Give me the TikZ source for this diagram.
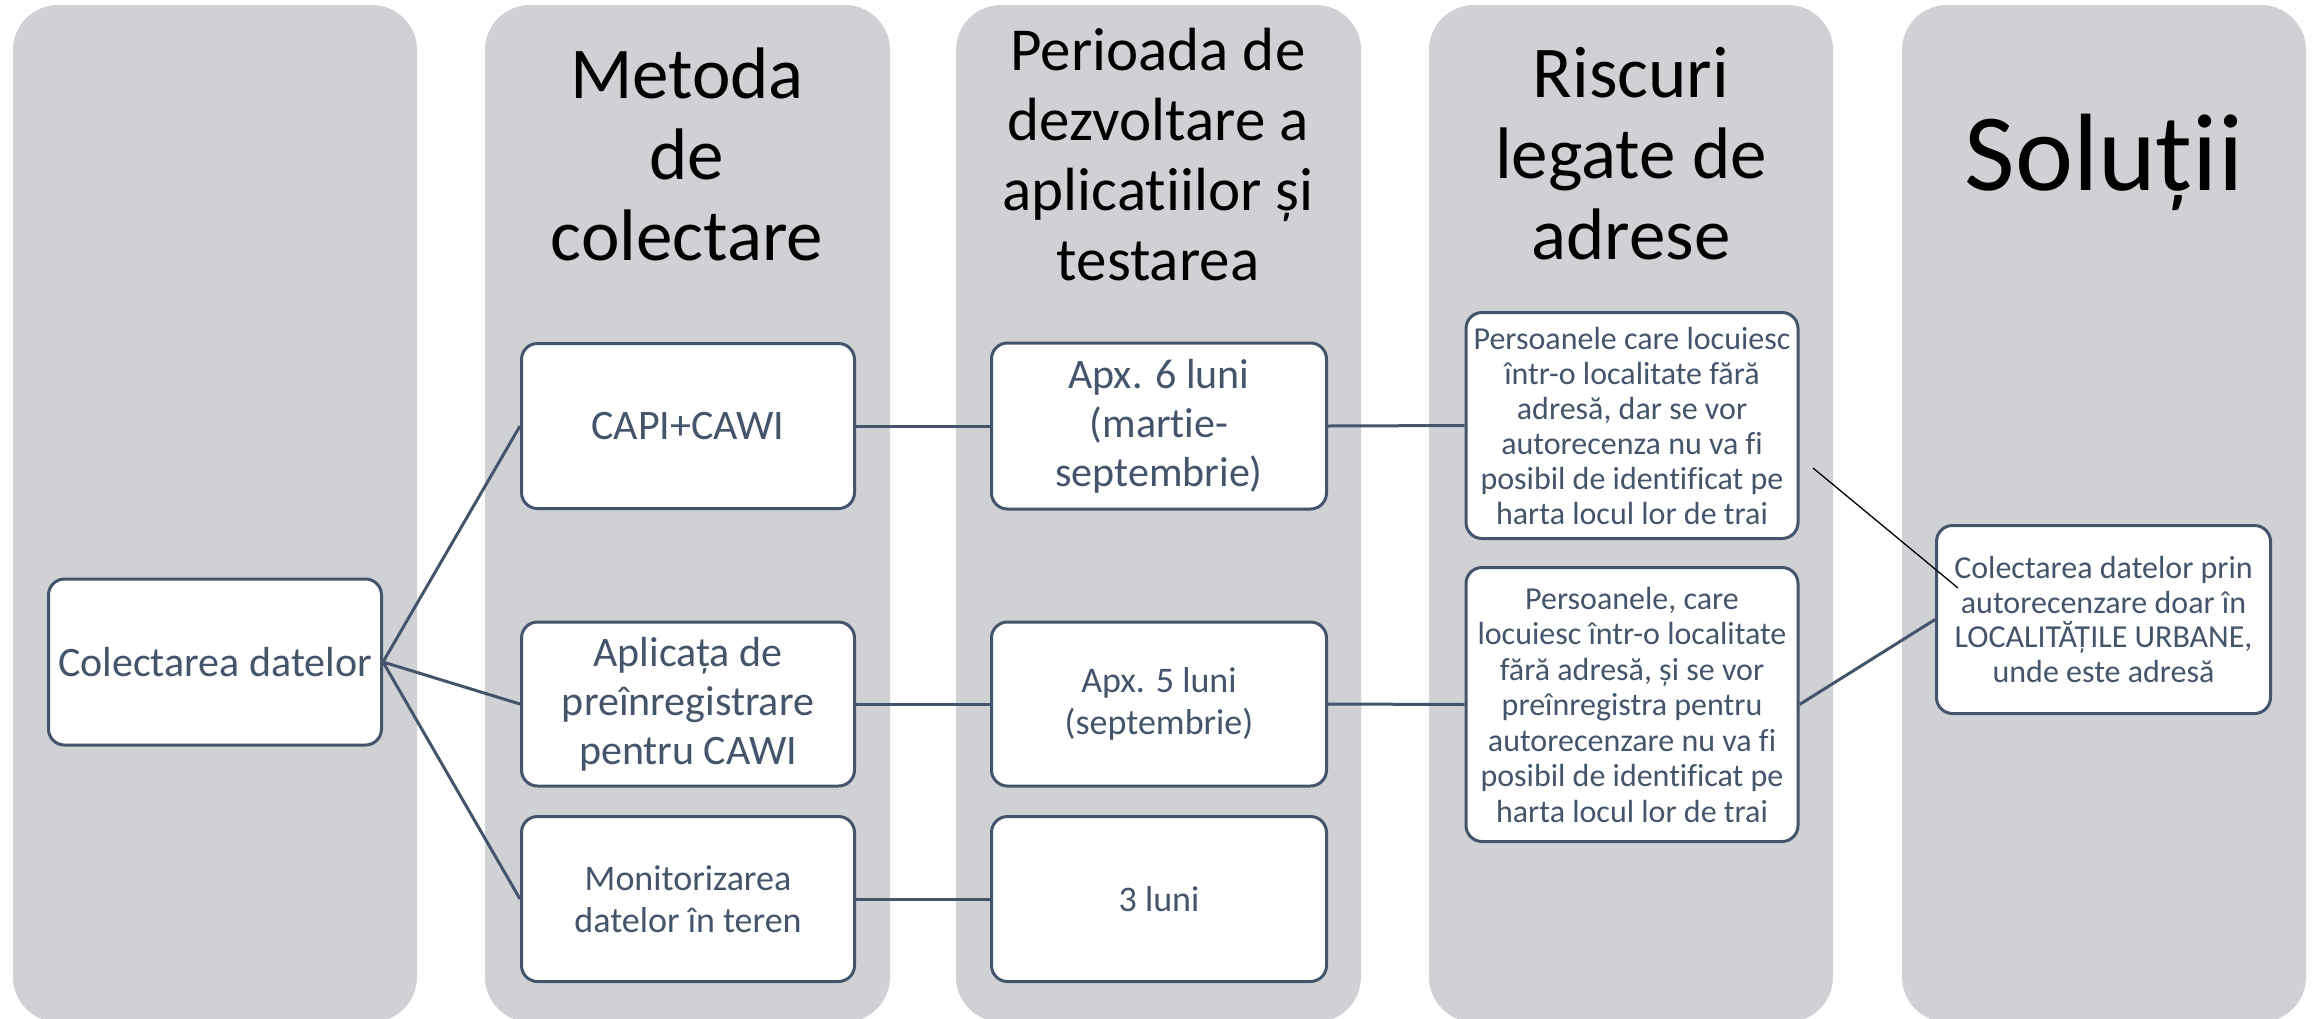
\documentclass[tikz,border=0pt]{standalone}
\usepackage{fontspec}
\setmainfont{Carlito}[Ligatures={NoCommon}]
\usetikzlibrary{calc}
\definecolor{colgray}{RGB}{208,209,213}
\definecolor{slate}{RGB}{68,84,106}
\begin{document}
\begin{tikzpicture}[x=1pt,y=-1pt,
  col/.style={fill=colgray, rounded corners=45pt},
  box/.style={draw=slate, fill=white, line width=3pt, rounded corners=16pt, text=slate, align=center, inner sep=0pt},
  conn/.style={draw=slate, line width=3pt},
  head/.style={text=black, align=center, inner sep=0pt},
  thinline/.style={draw=black, line width=1.3pt}]
\useasboundingbox (0,0) rectangle (2318,1018);
\clip (0,0) rectangle (2318,1018);
% columns
\fill[col] (13,5) rectangle (417,1022);
\fill[col] (485,5) rectangle (890,1022);
\fill[col] (956,5) rectangle (1361,1022);
\fill[col] (1429,5) rectangle (1833,1022);
\fill[col] (1902,5) rectangle (2306,1022);
% headers
\node[head, font=\fontsize{73}{81}\selectfont] (h2) at (687,154) {Metoda\\de\\colectare};
\node[head, font=\fontsize{61}{70}\selectfont] (h3) at (1158,155) {Perioada de\\dezvoltare a\\aplicatiilor și\\testarea};
\node[head, font=\fontsize{73}{81}\selectfont] (h4) at (1631,154) {Riscuri\\legate de\\adrese};
\node[head, font=\fontsize{110}{120}\selectfont, anchor=base] (h5) at (2104,190) {Soluții};
% boxes
\node[box, minimum width=333pt, minimum height=166pt, font=\fontsize{42}{49}\selectfont] (cd) at (215,662) {Colectarea datelor};
\node[box, minimum width=333pt, minimum height=165pt, font=\fontsize{42}{49}\selectfont] (capi) at (688,426) {CAPI+CAWI};
\node[box, minimum width=333pt, minimum height=164pt, font=\fontsize{42}{49}\selectfont] (apl) at (688,704) {Aplicața de\\preînregistrare\\pentru CAWI};
\node[box, minimum width=333pt, minimum height=165pt, font=\fontsize{36}{42}\selectfont] (mon) at (688,899) {Monitorizarea\\datelor în teren};
\node[box, minimum width=335pt, minimum height=166pt, font=\fontsize{42}{49}\selectfont] (p1) at (1159,426) {Apx. 6 luni\\(martie-\\septembrie)};
\node[box, minimum width=335pt, minimum height=164pt, font=\fontsize{36}{42}\selectfont] (p2) at (1159,704) {Apx. 5 luni\\(septembrie)};
\node[box, minimum width=335pt, minimum height=165pt, font=\fontsize{36}{42}\selectfont] (p3) at (1159,899) {3 luni};
\node[box, minimum width=332pt, minimum height=226pt, font=\fontsize{32}{35}\selectfont] (r1) at (1632,425.5) {Persoanele care locuiesc\\într-o localitate fără\\adresă, dar  se vor\\autorecenza nu va fi\\posibil de identificat pe\\harta locul lor de trai};
\node[box, minimum width=332pt, minimum height=274pt, font=\fontsize{32}{35.5}\selectfont] (r2) at (1632,704.5) {Persoanele, care\\locuiesc într-o localitate\\fără adresă, și se vor\\preînregistra pentru\\autorecenzare nu va fi\\posibil de identificat pe\\harta locul lor de trai};
\node[box, minimum width=334pt, minimum height=188pt, font=\fontsize{32}{34.5}\selectfont] (s1) at (2103.5,619.5) {Colectarea datelor prin\\autorecenzare doar în\\LOCALITĂȚILE URBANE,\\unde este adresă};
% connectors
\draw[conn] (cd.east) -- (capi.west);
\draw[conn] (cd.east) -- (apl.west);
\draw[conn] (cd.east) -- (mon.west);
\draw[conn] (capi.east) -- (p1.west);
\draw[conn] (apl.east) -- (p2.west);
\draw[conn] (mon.east) -- (p3.west);
\draw[conn] (p1.east) -- (r1.west);
\draw[conn] (p2.east) -- (r2.west);
\draw[conn] (r2.east) -- (s1.west);
\coordinate (ta) at (1813,468);
\coordinate (tb) at (1958,588);
\draw[thinline] (ta) -- (tb);
\end{tikzpicture}
\end{document}
